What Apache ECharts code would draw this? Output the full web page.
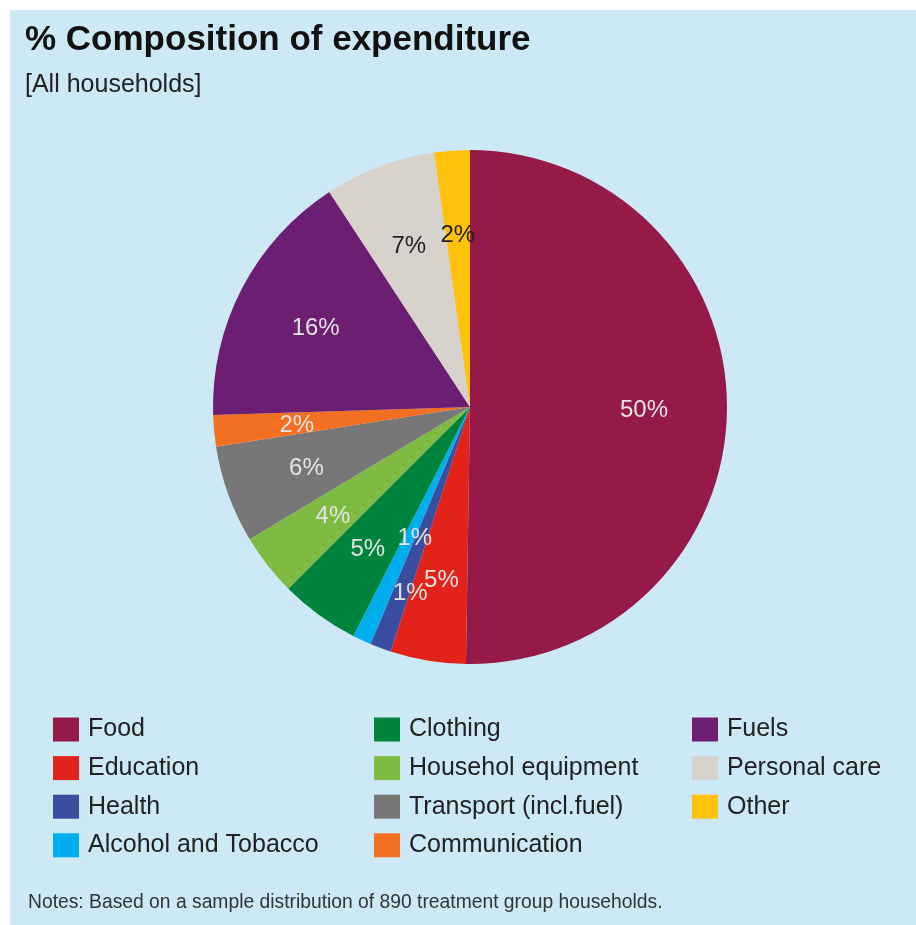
<!DOCTYPE html>
<html>
<head>
<meta charset="utf-8">
<script src="https://cdn.jsdelivr.net/npm/echarts@6/dist/echarts.min.js"></script>
<style>
  html, body { margin: 0; padding: 0; background: #ffffff; }
  #panel { position: absolute; left: 10px; top: 10px; width: 906px; height: 915px; background: #cde9f5; }
  #chart { position: absolute; left: 0; top: 0; width: 916px; height: 925px; }
</style>
</head>
<body>
<div id="panel"></div>
<div id="chart"></div>
<script>
// Expenditure categories, in clockwise order from 12 o'clock
const categories = [
  'Food', 'Education', 'Health', 'Alcohol and Tobacco', 'Clothing',
  'Househol equipment', 'Transport (incl.fuel)', 'Communication',
  'Fuels', 'Personal care', 'Other'
];
// Share of expenditure, %
const shares = [50.25, 4.75, 1.33, 1.17, 5.0, 3.89, 6.14, 1.97, 16.28, 6.99, 2.23];
const colors = [
  '#961a48', '#e2231a', '#3a4da1', '#00aeef', '#00843d',
  '#7fbb42', '#777777', '#f36f21', '#6b1e72', '#d8d2cc', '#fec10e'
];
// Legend columns
const legendCol1 = ['Food', 'Education', 'Health', 'Alcohol and Tobacco'];
const legendCol2 = ['Clothing', 'Househol equipment', 'Transport (incl.fuel)', 'Communication'];
const legendCol3 = ['Fuels', 'Personal care', 'Other'];

const FONT = '"Liberation Sans", Arial, sans-serif';
const darkText = new Set(['Personal care', 'Other']);

// Labels of the two thinnest slices are nudged apart so they stay readable
const labelNudge = {
  'Health': { dx: 1, dy: 21 },
  'Alcohol and Tobacco': { dx: 18, dy: -28 }
};

const sliceData = categories.map((name, i) => ({
  name: name,
  value: shares[i],
  itemStyle: { color: colors[i] }
}));

const labelData = categories.map((name, i) => ({
  name: name,
  value: shares[i],
  itemStyle: { color: 'rgba(0,0,0,0)' },
  label: { color: darkText.has(name) ? '#1e1e1e' : '#e4e4e4' }
}));

const legendBase = {
  orient: 'vertical',
  top: 712,
  itemWidth: 26,
  itemHeight: 24,
  itemGap: 13.6,
  icon: 'rect',
  selectedMode: false,
  textStyle: { fontFamily: FONT, fontSize: 25, color: '#222222', padding: [0, 0, 0, 4] }
};

const chart = echarts.init(document.getElementById('chart'), null, { renderer: 'canvas' });
chart.setOption({
  backgroundColor: 'transparent',
  animation: false,
  title: [
    {
      text: '% Composition of expenditure',
      subtext: '[All households]',
      left: 20,
      top: 18,
      itemGap: 15,
      textStyle: { fontFamily: FONT, fontSize: 35, fontWeight: 'bold', color: '#111111' },
      subtextStyle: { fontFamily: FONT, fontSize: 25, color: '#222222' }
    },
    {
      text: 'Notes: Based on a sample distribution of 890 treatment group households.',
      left: 23,
      top: 888,
      textStyle: { fontFamily: FONT, fontSize: 19.3, fontWeight: 'normal', color: '#333333' }
    }
  ],
  legend: [
    Object.assign({}, legendBase, { left: 48, data: legendCol1 }),
    Object.assign({}, legendBase, { left: 369, data: legendCol2 }),
    Object.assign({}, legendBase, { left: 687, data: legendCol3 })
  ],
  series: [
    {
      type: 'pie',
      center: [470, 407],
      radius: [0, 257],
      startAngle: 90,
      clockwise: true,
      silent: true,
      label: { show: false },
      labelLine: { show: false },
      emphasis: { disabled: true },
      data: sliceData
    },
    {
      // label ring: its midline sits 171px from the centre
      type: 'pie',
      center: [470, 409],
      radius: [86, 256],
      startAngle: 90,
      clockwise: true,
      silent: true,
      z: 5,
      legendHoverLink: false,
      label: {
        show: true,
        position: 'inside',
        fontFamily: FONT,
        fontSize: 24,
        formatter: p => Math.round(p.value) + '%'
      },
      labelLine: { show: false },
      labelLayout: p => {
        const n = labelNudge[categories[p.dataIndex]];
        return n ? { dx: n.dx, dy: n.dy, hideOverlap: false } : { hideOverlap: false };
      },
      emphasis: { disabled: true },
      data: labelData
    }
  ]
});
</script>
</body>
</html>
